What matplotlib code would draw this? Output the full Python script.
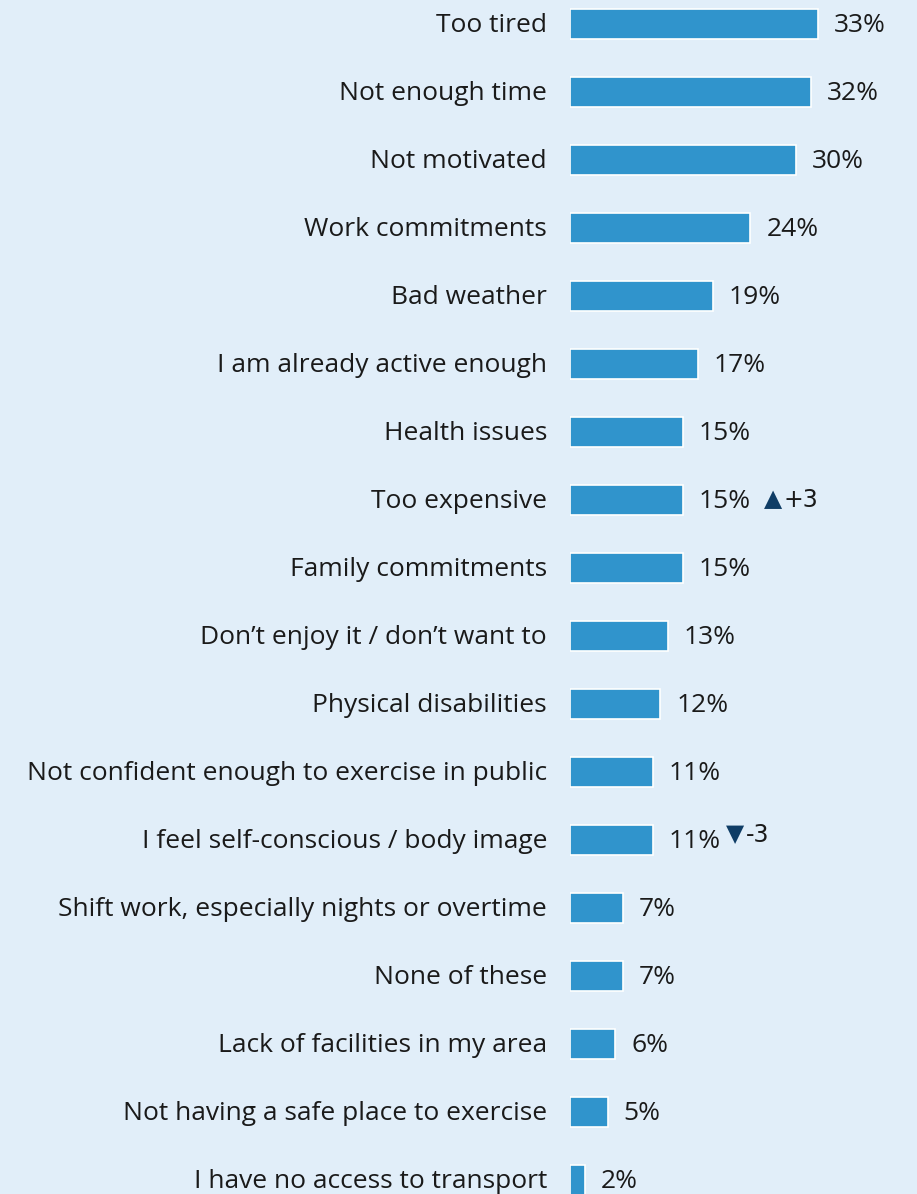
import matplotlib.pyplot as plt
from matplotlib.transforms import offset_copy

labels = ["Too tired", "Not enough time", "Not motivated", "Work commitments",
          "Bad weather", "I am already active enough", "Health issues",
          "Too expensive", "Family commitments", "Don\u2019t enjoy it / don\u2019t want to",
          "Physical disabilities", "Not confident enough to exercise in public",
          "I feel self-conscious / body image", "Shift work, especially nights or overtime",
          "None of these", "Lack of facilities in my area",
          "Not having a safe place to exercise", "I have no access to transport"]
values = [33, 32, 30, 24, 19, 17, 15, 15, 15, 13, 12, 11, 11, 7, 7, 6, 5, 2]
# change vs previous wave: (label, arrow, text)
changes = {"Too expensive": ("\u25b2", "+3"),
           "I feel self-conscious / body image": ("\u25bc", "-3")}

bg = "#e1eef9"
bar_color = "#3094cc"
navy = "#0f3d66"
txt = "#1a1a1a"
plt.rcParams['font.family'] = ['Open Sans', 'DejaVu Sans']

W, H = 917, 1194
fig = plt.figure(figsize=(W / 100, H / 100), dpi=100, facecolor=bg)
ax = fig.add_axes([570 / W, 0, (W - 570) / W, 1])
ax.set_facecolor(bg)

px_per_val = 7.52
ax.set_xlim(0, (W - 570) / px_per_val)
row = 68
ax.set_ylim((H - 24) / row, -24 / row)

ypos = list(range(len(labels)))
ax.barh(ypos, values, height=30 / row, color=bar_color, edgecolor="white", linewidth=1.2)

for y, lab, v in zip(ypos, labels, values):
    ax.annotate(lab, (0, y), xytext=(-23, -1), textcoords="offset pixels",
                ha="right", va="center", fontsize=19, color=txt,
                annotation_clip=False)
    ax.annotate(f"{v}%", (v, y), xytext=(16, -1), textcoords="offset pixels",
                ha="left", va="center", fontsize=19, color=txt)
    if lab in changes:
        arrow, ch = changes[lab]
        dx = 81 if arrow == "\u25b2" else 73
        dy = 1 if arrow == "\u25b2" else 6
        ax.annotate(arrow, (v, y), xytext=(dx, dy), textcoords="offset pixels",
                    ha="left", va="center", fontsize=17, color=navy,
                    family=['DejaVu Sans'])
        tr = offset_copy(ax.transData, fig=fig, x=dx + 20, y=dy - 1, units="dots")
        ax.text(v, y, ch, transform=tr, ha="left", va="center",
                size=17, color=txt, family=['DejaVu Sans'])

ax.axis("off")
fig.savefig("out.png", dpi=100, facecolor=bg)
